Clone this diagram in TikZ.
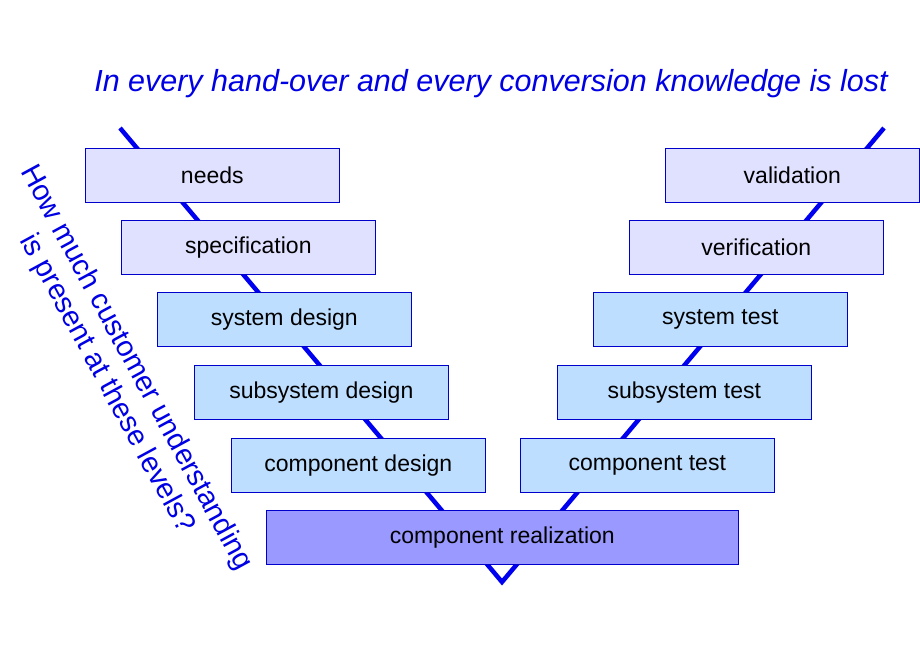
\documentclass[tikz,border=0pt]{standalone}
\usepackage{fontspec}
\setmainfont{Liberation Sans}
\begin{document}
\begin{tikzpicture}[x=1pt,y=-1pt,
  bx/.style={draw=blue!80!black,line width=0.6pt,minimum width=254pt,minimum height=54pt,anchor=north west,font=\fontsize{23}{27}\selectfont},
  top/.style={bx,fill={rgb,255:red,224;green,224;blue,255}},
  mid/.style={bx,fill={rgb,255:red,190;green,222;blue,255}}]
\useasboundingbox (0,0) rectangle (920,660);
\coordinate (vl) at (120,128); \coordinate (vb) at (502,582); \coordinate (vr) at (884,128);
\draw[line width=4.5pt,color={rgb,255:red,0;green,0;blue,240}] (vl) -- (vb) -- (vr);
\node[top] (n1) at (85,148) {needs};
\node[top] (n2) at (121,220) {specification};
\node[mid] (n3) at (157,292) {system design};
\node[mid] (n4) at (194,365) {subsystem design};
\node[mid] (n5) at (231,438) {component design};
\node[top] (m1) at (665,148) {validation};
\node[top] (m2) at (629,220) {verification};
\node[mid] (m3) at (593,292) {system test};
\node[mid] (m4) at (557,365) {subsystem test};
\node[mid] (m5) at (520,438) {component test};
\node[bx,minimum width=472pt,fill={rgb,255:red,153;green,153;blue,255}] (r) at (266,510) {component realization};
\node[text=blue!90!black,font=\fontsize{30.5}{36}\selectfont\itshape] (t) at (491,84) {In every hand-over and every conversion knowledge is lost};
\node[text=blue!90!black,font=\fontsize{29}{33}\selectfont,rotate=-61.5,align=center] (q) at (121,376) {How much customer understanding\\is present at these levels?};
\end{tikzpicture}
\end{document}
